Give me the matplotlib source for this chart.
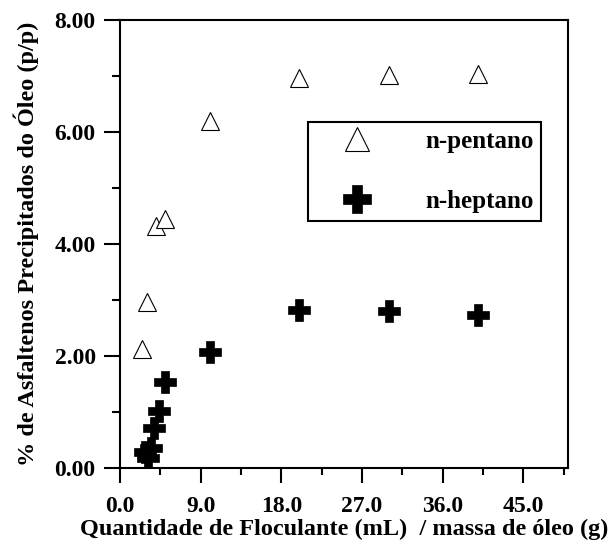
import matplotlib
matplotlib.use('Agg')
import matplotlib.pyplot as plt
from matplotlib.ticker import MultipleLocator, FormatStrFormatter

plt.rcParams['font.family'] = ['Liberation Serif', 'DejaVu Serif']
plt.rcParams['font.weight'] = 'bold'

# dados
pentano_x = [2.5, 3.0, 4.0, 5.0, 10.0, 20.0, 30.0, 40.0]
pentano_y = [2.12, 2.97, 4.32, 4.45, 6.19, 6.96, 7.01, 7.04]

heptano_x = [2.8, 3.1, 3.5, 3.8, 4.4, 5.0, 10.0, 20.0, 30.0, 40.0]
heptano_y = [0.28, 0.17, 0.36, 0.71, 1.01, 1.54, 2.07, 2.82, 2.81, 2.73]

x_lim = (0, 50)
y_lim = (0, 8)

fig = plt.figure(figsize=(6.11, 5.44), dpi=100)
ax = fig.add_axes([0.1964, 0.1397, 0.7332, 0.8235])

ax.plot(pentano_x, pentano_y, ls='none', marker='^', ms=13.5,
        mfc='white', mec='black', mew=0.8, label='n-pentano')
ax.plot(heptano_x, heptano_y, ls='none', marker='P', ms=16,
        mfc='black', mec='black', mew=0.5, label='n-heptano')

ax.set_xlim(*x_lim)
ax.set_ylim(*y_lim)

ax.xaxis.set_major_locator(MultipleLocator(9))
ax.xaxis.set_minor_locator(MultipleLocator(4.5))
ax.yaxis.set_major_locator(MultipleLocator(2))
ax.yaxis.set_minor_locator(MultipleLocator(1))
ax.xaxis.set_major_formatter(FormatStrFormatter('%.1f'))
ax.yaxis.set_major_formatter(FormatStrFormatter('%.2f'))

for s in ax.spines.values():
    s.set_linewidth(1.5)

ax.tick_params(axis='x', which='major', direction='out', length=10.8, width=1.5,
               pad=9, labelsize=17)
ax.tick_params(axis='x', which='minor', direction='out', length=5, width=1.5)
ax.tick_params(axis='y', which='major', direction='out', length=11.5, width=1.5,
               pad=6, labelsize=17)
ax.tick_params(axis='y', which='minor', direction='out', length=5.8, width=1.5)

ax.set_xlabel('Quantidade de Floculante (mL)  / massa de óleo (g)',
              fontsize=17.5, fontweight='bold', labelpad=2)
ax.set_ylabel('% de Asfaltenos Precipitados do Óleo (p/p)',
              fontsize=17.5, fontweight='bold', labelpad=11)

leg = ax.legend(loc='upper left', bbox_to_anchor=(0.4196, 0.772),
                borderaxespad=0, fontsize=18, borderpad=0.3,
                handlelength=3.3, handletextpad=1.1, labelspacing=1.5,
                markerscale=1.27, fancybox=False, framealpha=1,
                edgecolor='black')
leg.get_frame().set_linewidth(1.5)

fig.savefig('out.png', dpi=100)
